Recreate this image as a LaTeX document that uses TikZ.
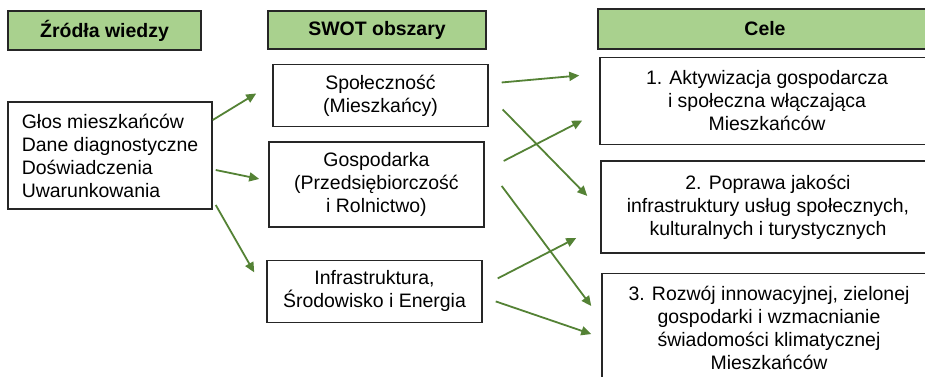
\documentclass[tikz,border=0pt]{standalone}
\usepackage{fontspec}
\setmainfont{Liberation Sans}
\usepackage{tikz}
\usetikzlibrary{calc, positioning, arrows.meta}
\usepackage{xcolor}
\definecolor{hdrgreen}{HTML}{A9D18E}
\definecolor{arrgreen}{HTML}{548235}
\definecolor{edgegray}{HTML}{262626}

\begin{document}
\begin{tikzpicture}[
    x=0.75pt, y=-0.75pt,
    semithick,
    font=\fontsize{14.6pt}{17.25pt}\selectfont,
    ]
    \tikzstyle{header}=[ draw = edgegray, line width = 1.1pt, fill = hdrgreen, font=\fontsize{14.6pt}{17.25pt}\selectfont\bfseries, inner sep = 0pt ]
    \tikzstyle{box}=[ draw = edgegray, line width = 1.1pt, fill = white, align = center, inner sep = 0pt ]
    \tikzstyle{link}=[ draw = arrgreen, line width = 1.35pt, -{Triangle[length=7.5pt, width=6.75pt]} ]
    \useasboundingbox (0,0) rectangle (925,376);
    \clip (0,0) rectangle (925,376);
    \node[header, minimum width=144.75pt, minimum height=29.25pt] (H1) at (104.5,30.5) {Źródła wiedzy};
    \node[header, minimum width=163.5pt, minimum height=28.5pt] (H2) at (377,30) {SWOT obszary};
    \node[header, minimum width=250.5pt, minimum height=30pt] (H3) at (765,29) {Cele};
    \node[box, align=left, minimum width=153pt, minimum height=80.25pt] (Z) at (110,155.5) {Głos mieszkańców\\Dane diagnostyczne\\Doświadczenia\\Uwarunkowania};
    \node[box, minimum width=161.25pt, minimum height=46.5pt] (S1) [below=10.5pt of H2, xshift=2.6pt] {Społeczność\\(Mieszkańcy)};
    \node[box, minimum width=161.25pt, minimum height=63.75pt] (S2) [below=10.5pt of S1, xshift=-3pt] {Gospodarka\\(Przedsiębiorczość\\i Rolnictwo)};
    \node[box, minimum width=161.25pt, minimum height=46.5pt] (S3) [below=24pt of S2, xshift=-1.5pt] {Infrastruktura,\\Środowisko i Energia};
    \node[box, minimum width=250.5pt, minimum height=65.25pt] (C1) [below=5.25pt of H3, xshift=1.5pt] {1. Aktywizacja gospodarcza\\i społeczna włączająca\\Mieszkańców};
    \node[box, minimum width=250.5pt, minimum height=69pt] (C2) [below=11.25pt of C1, xshift=0.75pt] {2. Poprawa jakości\\infrastruktury usług społecznych,\\kulturalnych i turystycznych};
    \node[box, minimum width=250.5pt, minimum height=82pt] (C3) [below=14.25pt of C2, xshift=0.75pt] {3. Rozwój innowacyjnej, zielonej\\gospodarki i wzmacnianie\\świadomości klimatycznej\\Mieszkańców};
    % zrodla -> obszary
    \draw[link] ($(Z.east)+(0,-35.5)$) -- ($(S1.west)+(-16,-2)$);
    \draw[link] ($(Z.east)+(3,14.5)$) -- ($(S2.west)+(-9,-5.5)$);
    \draw[link] ($(Z.east)+(3,49.5)$) -- ($(S3.west)+(-12,-19)$);
    % obszary -> cele
    \draw[link] ($(S1.east)+(13,-13)$) -- ($(C1.west)+(-20,-25.5)$);
    \draw[link] ($(S1.east)+(14,14)$) -- ($(C2.west)+(-13,-11)$);
    \draw[link] ($(S2.east)+(19,-23.5)$) -- ($(C1.west)+(-17,19.5)$);
    \draw[link] ($(S2.east)+(17,1.5)$) -- ($(C3.west)+(-10,-22)$);
    \draw[link] ($(S3.east)+(15,-13)$) -- ($(C2.west)+(-24,31)$);
    \draw[link] ($(S3.east)+(13,10)$) -- ($(C3.west)+(-10,6)$);
  \end{tikzpicture}
\end{document}
